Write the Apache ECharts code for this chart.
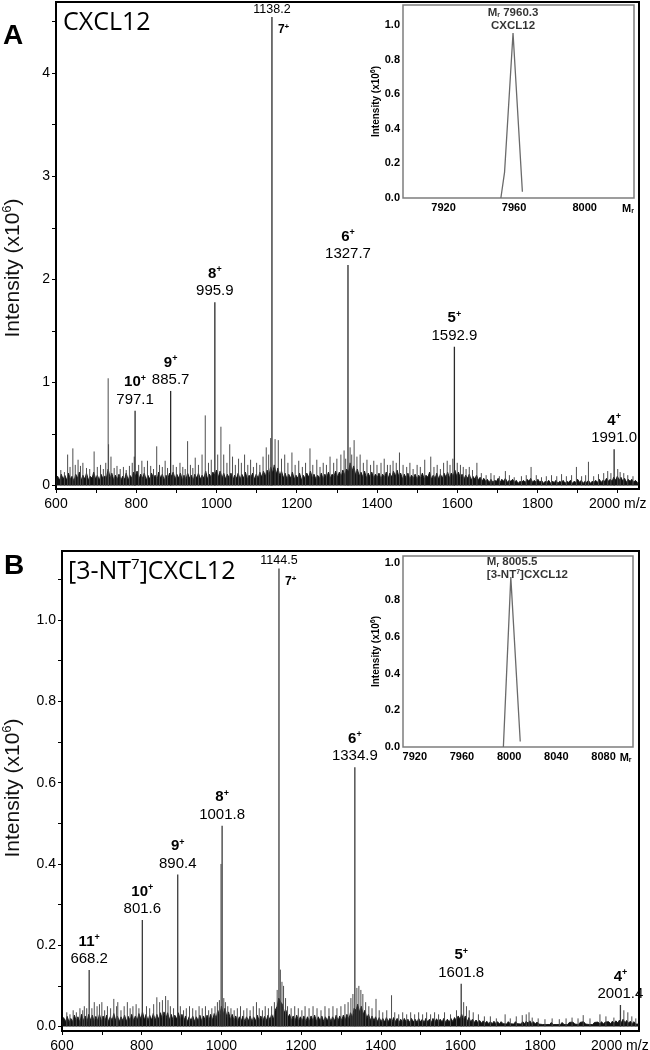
<!DOCTYPE html>
<html>
<head>
<meta charset="UTF-8" />
<script src="https://cdn.jsdelivr.net/npm/echarts@6.0.0/dist/echarts.min.js"></script>
<style>
  html, body, #main { margin: 0; padding: 0; width: 650px; height: 1050px; background: #fff; }
</style>
</head>
<body>
<div id="main"></div>
<script>
// ---- panel A: CXCL12 ----
const labelMzA = [797.1, 885.7, 995.9, 1138.2, 1327.7, 1592.9, 1991.0];
const labelIntA = [0.725, 0.917, 1.777, 4.544, 2.139, 1.346, 0.351];
const chargeA = ['10', '9', '8', '7', '6', '5', '4'];

// small spikes above the noise floor, [m/z, intensity x10^6]
const spikesA = [[612,0.15],[621,0.13],[629,0.30],[635,0.18],[642,0.36],[648,0.20],[655,0.25],[661,0.19],[667,0.22],[676,0.17],[684,0.16],[695,0.33],[703,0.18],[711,0.20],[718,0.16],[724,0.22],[730,1.04],[731,0.40],[737,0.28],[745,0.17],[752,0.19],[760,0.16],[768,0.18],[775,0.15],[783,0.19],[790,0.22],[795,0.28],[806,0.20],[814,0.24],[820,0.18],[828,0.24],[836,0.19],[843,0.16],[851,0.38],[858,0.20],[865,0.18],[872,0.24],[878,0.17],[892,0.20],[900,0.18],[909,0.22],[916,0.18],[922,0.16],[928,0.43],[935,0.20],[941,0.17],[947,0.27],[955,0.20],[964,0.30],[972,0.68],[980,0.22],[987,0.25],[1003,0.30],[1011,0.57],[1018,0.30],[1026,0.22],[1033,0.40],[1040,0.28],[1047,0.20],[1055,0.26],[1062,0.22],[1070,0.30],[1078,0.20],[1085,0.25],[1092,0.18],[1100,0.22],[1108,0.20],[1116,0.28],[1124,0.37],[1130,0.30],[1135,0.46],[1146,0.45],[1154,0.44],[1162,0.26],[1170,0.30],[1178,0.22],[1188,0.32],[1196,0.20],[1205,0.24],[1214,0.18],[1222,0.22],[1233,0.36],[1240,0.20],[1250,0.25],[1258,0.18],[1266,0.22],[1274,0.20],[1283,0.28],[1292,0.22],[1300,0.26],[1310,0.30],[1318,0.34],[1322,0.26],[1333,0.37],[1337,0.30],[1343,0.44],[1350,0.28],[1358,0.30],[1366,0.22],[1375,0.25],[1384,0.20],[1392,0.24],[1400,0.20],[1410,0.22],[1418,0.26],[1426,0.20],[1433,0.20],[1440,0.24],[1448,0.22],[1456,0.32],[1465,0.20],[1474,0.18],[1482,0.22],[1490,0.16],[1500,0.20],[1508,0.18],[1519,0.25],[1534,0.28],[1542,0.18],[1550,0.20],[1558,0.16],[1566,0.22],[1575,0.24],[1582,0.20],[1589,0.26],[1600,0.22],[1608,0.20],[1615,0.18],[1622,0.16],[1630,0.18],[1638,0.15],[1649,0.22],[1660,0.12],[1672,0.10],[1684,0.12],[1692,0.10],[1705,0.09],[1720,0.14],[1730,0.10],[1742,0.08],[1760,0.09],[1772,0.10],[1784,0.18],[1797,0.10],[1810,0.08],[1822,0.09],[1835,0.10],[1848,0.09],[1860,0.11],[1872,0.09],[1885,0.10],[1897,0.18],[1910,0.09],[1920,0.10],[1927,0.23],[1940,0.09],[1952,0.11],[1965,0.12],[1975,0.14],[1983,0.12],[2000,0.16],[2006,0.13],[2015,0.12],[2025,0.10],[2038,0.09]];

// dense noise floor
const floorA = [[600,0.04],[604,0.09],[609,0.05],[613,0.11],[618,0.06],[622,0.10],[627,0.05],[631,0.12],[636,0.06],[640,0.09],[645,0.04],[649,0.11],[654,0.07],[658,0.13],[663,0.05],[667,0.10],[672,0.06],[676,0.12],[681,0.05],[685,0.09],[690,0.07],[694,0.13],[699,0.06],[703,0.10],[708,0.05],[712,0.11],[717,0.07],[721,0.09],[726,0.08],[730,0.16],[735,0.07],[739,0.12],[744,0.05],[748,0.10],[753,0.06],[757,0.11],[762,0.05],[766,0.09],[771,0.06],[775,0.12],[780,0.05],[784,0.10],[789,0.07],[793,0.13],[798,0.09],[802,0.14],[807,0.06],[811,0.11],[816,0.07],[820,0.12],[825,0.05],[829,0.10],[834,0.06],[838,0.12],[843,0.07],[847,0.10],[852,0.06],[856,0.13],[861,0.07],[865,0.11],[870,0.05],[874,0.10],[879,0.07],[883,0.12],[888,0.09],[892,0.13],[897,0.06],[901,0.11],[906,0.07],[910,0.12],[915,0.05],[919,0.10],[924,0.06],[928,0.12],[933,0.07],[937,0.10],[942,0.05],[946,0.11],[951,0.07],[955,0.12],[960,0.06],[964,0.10],[969,0.07],[973,0.14],[978,0.06],[982,0.11],[987,0.08],[991,0.13],[996,0.10],[1000,0.15],[1005,0.08],[1009,0.14],[1014,0.07],[1018,0.12],[1023,0.06],[1027,0.11],[1032,0.07],[1036,0.12],[1041,0.05],[1045,0.10],[1050,0.07],[1054,0.12],[1059,0.06],[1063,0.11],[1068,0.07],[1072,0.13],[1077,0.06],[1081,0.10],[1086,0.08],[1090,0.12],[1095,0.06],[1099,0.11],[1104,0.07],[1108,0.13],[1113,0.08],[1117,0.14],[1122,0.09],[1126,0.15],[1131,0.10],[1135,0.18],[1140,0.12],[1144,0.20],[1149,0.11],[1153,0.17],[1158,0.09],[1162,0.14],[1167,0.07],[1171,0.12],[1176,0.06],[1180,0.11],[1185,0.07],[1189,0.13],[1194,0.06],[1198,0.10],[1203,0.07],[1207,0.12],[1212,0.05],[1216,0.10],[1221,0.07],[1225,0.12],[1230,0.08],[1234,0.14],[1239,0.07],[1243,0.11],[1248,0.06],[1252,0.10],[1257,0.07],[1261,0.12],[1266,0.06],[1270,0.11],[1275,0.08],[1279,0.13],[1284,0.07],[1288,0.11],[1293,0.09],[1297,0.14],[1302,0.08],[1306,0.13],[1311,0.09],[1315,0.15],[1320,0.10],[1324,0.16],[1329,0.13],[1333,0.22],[1338,0.14],[1342,0.19],[1347,0.10],[1351,0.16],[1356,0.09],[1360,0.13],[1365,0.08],[1369,0.14],[1374,0.07],[1378,0.12],[1383,0.08],[1387,0.13],[1392,0.07],[1396,0.11],[1401,0.08],[1405,0.12],[1410,0.06],[1414,0.11],[1419,0.08],[1423,0.13],[1428,0.07],[1432,0.12],[1437,0.08],[1441,0.14],[1446,0.09],[1450,0.15],[1455,0.08],[1459,0.12],[1464,0.06],[1468,0.11],[1473,0.07],[1477,0.12],[1482,0.06],[1486,0.10],[1491,0.07],[1495,0.11],[1500,0.06],[1504,0.10],[1509,0.07],[1513,0.12],[1518,0.06],[1522,0.10],[1527,0.08],[1531,0.13],[1536,0.06],[1540,0.10],[1545,0.07],[1549,0.12],[1554,0.06],[1558,0.11],[1563,0.07],[1567,0.12],[1572,0.08],[1576,0.13],[1581,0.07],[1585,0.12],[1590,0.09],[1594,0.15],[1599,0.09],[1603,0.13],[1608,0.07],[1612,0.11],[1617,0.06],[1621,0.10],[1626,0.07],[1630,0.11],[1635,0.05],[1639,0.09],[1644,0.06],[1648,0.10],[1653,0.05],[1657,0.08],[1662,0.04],[1666,0.07],[1671,0.04],[1675,0.06],[1680,0.03],[1684,0.06],[1689,0.03],[1693,0.05],[1698,0.04],[1702,0.07],[1707,0.03],[1711,0.06],[1716,0.04],[1720,0.07],[1725,0.03],[1729,0.05],[1734,0.04],[1738,0.06],[1743,0.03],[1747,0.05],[1752,0.02],[1756,0.04],[1761,0.03],[1765,0.05],[1770,0.03],[1774,0.06],[1779,0.04],[1783,0.07],[1788,0.03],[1792,0.05],[1797,0.03],[1801,0.06],[1806,0.03],[1810,0.05],[1815,0.02],[1819,0.04],[1824,0.03],[1828,0.05],[1833,0.02],[1837,0.04],[1842,0.03],[1846,0.05],[1851,0.02],[1855,0.04],[1860,0.03],[1864,0.05],[1869,0.02],[1873,0.04],[1878,0.03],[1882,0.05],[1887,0.02],[1891,0.04],[1896,0.03],[1900,0.06],[1905,0.03],[1909,0.05],[1914,0.02],[1918,0.04],[1923,0.03],[1927,0.05],[1932,0.02],[1936,0.04],[1941,0.03],[1945,0.05],[1950,0.03],[1954,0.06],[1959,0.03],[1963,0.05],[1968,0.04],[1972,0.07],[1977,0.04],[1981,0.06],[1986,0.04],[1990,0.08],[1995,0.05],[1999,0.09],[2004,0.05],[2008,0.08],[2013,0.04],[2017,0.07],[2022,0.03],[2026,0.06],[2031,0.04],[2035,0.06],[2040,0.03],[2044,0.05],[2049,0.03],[2053,0.04]];

// deconvoluted inset A
const deconvMzA = [7952.5, 7954.6, 7959.4, 7964.7];
const deconvIntA = [0, 0.15, 0.954, 0.036];

// ---- panel B: [3-NT7]CXCL12 ----
const labelMzB = [668.2, 801.6, 890.4, 1001.8, 1144.5, 1334.9, 1601.8, 2001.4];
const labelIntB = [0.139, 0.262, 0.374, 0.494, 1.127, 0.638, 0.105, 0.053];
const chargeB = ['11', '10', '9', '8', '7', '6', '5', '4'];

const spikesB = [[612,0.035],[620,0.03],[628,0.04],[636,0.035],[645,0.045],[652,0.04],[656,0.05],[662,0.045],[675,0.045],[681,0.06],[688,0.05],[694,0.055],[700,0.06],[707,0.04],[714,0.05],[722,0.045],[730,0.068],[737,0.05],[740,0.06],[748,0.04],[756,0.05],[764,0.06],[771,0.045],[778,0.05],[786,0.055],[793,0.045],[812,0.05],[820,0.045],[830,0.055],[838,0.072],[845,0.06],[852,0.065],[860,0.075],[866,0.065],[872,0.05],[880,0.045],[897,0.05],[905,0.04],[912,0.045],[920,0.05],[928,0.045],[936,0.04],[944,0.05],[952,0.045],[960,0.05],[968,0.04],[976,0.045],[984,0.05],[990,0.06],[995,0.065],[999,0.40],[1006,0.07],[1010,0.06],[1016,0.05],[1024,0.045],[1032,0.04],[1040,0.045],[1048,0.05],[1056,0.04],[1064,0.045],[1072,0.04],[1080,0.05],[1088,0.06],[1095,0.045],[1103,0.04],[1110,0.05],[1118,0.045],[1126,0.05],[1133,0.06],[1140,0.09],[1148,0.14],[1152,0.11],[1156,0.10],[1161,0.07],[1166,0.05],[1175,0.045],[1184,0.05],[1193,0.045],[1202,0.04],[1210,0.05],[1220,0.045],[1230,0.05],[1240,0.045],[1250,0.04],[1260,0.05],[1270,0.045],[1280,0.05],[1290,0.045],[1300,0.05],[1310,0.055],[1318,0.06],[1325,0.07],[1330,0.08],[1340,0.095],[1345,0.10],[1350,0.09],[1355,0.08],[1362,0.06],[1370,0.05],[1378,0.045],[1388,0.068],[1396,0.04],[1405,0.035],[1415,0.04],[1427,0.077],[1435,0.035],[1445,0.03],[1455,0.035],[1465,0.03],[1475,0.035],[1485,0.03],[1495,0.035],[1505,0.03],[1515,0.035],[1525,0.03],[1535,0.035],[1545,0.03],[1560,0.035],[1575,0.03],[1590,0.04],[1608,0.06],[1615,0.05],[1622,0.04],[1632,0.035],[1645,0.03],[1660,0.025],[1675,0.025],[1690,0.02],[1712,0.03],[1725,0.02],[1740,0.025],[1755,0.028],[1765,0.03],[1772,0.035],[1780,0.022],[1795,0.02],[1812,0.018],[1830,0.02],[1848,0.018],[1865,0.02],[1880,0.022],[1895,0.02],[1908,0.028],[1925,0.02],[1950,0.03],[1965,0.025],[1985,0.022],[2010,0.04],[2020,0.035],[2030,0.025],[2040,0.02]];

const floorB = [[600,0.010],[604,0.022],[609,0.012],[613,0.025],[618,0.010],[622,0.020],[627,0.012],[631,0.028],[636,0.014],[640,0.024],[645,0.010],[649,0.030],[654,0.014],[658,0.026],[663,0.012],[667,0.030],[672,0.015],[676,0.028],[681,0.012],[685,0.025],[690,0.014],[694,0.030],[699,0.012],[703,0.026],[708,0.014],[712,0.028],[717,0.012],[721,0.024],[726,0.015],[730,0.032],[735,0.014],[739,0.026],[744,0.012],[748,0.024],[753,0.014],[757,0.028],[762,0.012],[766,0.025],[771,0.015],[775,0.030],[780,0.014],[784,0.026],[789,0.016],[793,0.032],[798,0.018],[802,0.036],[807,0.016],[811,0.030],[816,0.014],[820,0.028],[825,0.016],[829,0.032],[834,0.015],[838,0.030],[843,0.017],[847,0.034],[852,0.018],[856,0.036],[861,0.020],[865,0.034],[870,0.016],[874,0.030],[879,0.015],[883,0.028],[888,0.018],[892,0.034],[897,0.016],[901,0.030],[906,0.014],[910,0.026],[915,0.012],[919,0.024],[924,0.014],[928,0.026],[933,0.012],[937,0.024],[942,0.014],[946,0.028],[951,0.013],[955,0.026],[960,0.014],[964,0.028],[969,0.015],[973,0.030],[978,0.016],[982,0.032],[987,0.020],[991,0.040],[996,0.025],[1000,0.050],[1005,0.030],[1009,0.045],[1014,0.022],[1018,0.036],[1023,0.016],[1027,0.030],[1032,0.014],[1036,0.026],[1041,0.012],[1045,0.024],[1050,0.014],[1054,0.026],[1059,0.012],[1063,0.024],[1068,0.014],[1072,0.026],[1077,0.012],[1081,0.024],[1086,0.014],[1090,0.028],[1095,0.014],[1099,0.026],[1104,0.013],[1108,0.025],[1113,0.015],[1117,0.028],[1122,0.016],[1126,0.030],[1131,0.018],[1135,0.040],[1140,0.050],[1144,0.070],[1149,0.060],[1153,0.055],[1158,0.035],[1162,0.040],[1167,0.022],[1171,0.030],[1176,0.015],[1180,0.026],[1185,0.014],[1189,0.028],[1194,0.013],[1198,0.024],[1203,0.014],[1207,0.026],[1212,0.012],[1216,0.024],[1221,0.013],[1225,0.026],[1230,0.014],[1234,0.028],[1239,0.012],[1243,0.024],[1248,0.014],[1252,0.026],[1257,0.012],[1261,0.024],[1266,0.014],[1270,0.026],[1275,0.012],[1279,0.024],[1284,0.014],[1288,0.028],[1293,0.014],[1297,0.026],[1302,0.015],[1306,0.028],[1311,0.016],[1315,0.030],[1320,0.018],[1324,0.034],[1329,0.022],[1333,0.045],[1338,0.040],[1342,0.055],[1347,0.035],[1351,0.050],[1356,0.030],[1360,0.040],[1365,0.020],[1369,0.030],[1374,0.015],[1378,0.026],[1383,0.014],[1387,0.024],[1392,0.012],[1396,0.022],[1401,0.012],[1405,0.020],[1410,0.011],[1414,0.022],[1419,0.012],[1423,0.020],[1428,0.010],[1432,0.022],[1437,0.012],[1441,0.020],[1446,0.010],[1450,0.018],[1455,0.010],[1459,0.020],[1464,0.011],[1468,0.018],[1473,0.010],[1477,0.020],[1482,0.011],[1486,0.018],[1491,0.010],[1495,0.020],[1500,0.011],[1504,0.018],[1509,0.010],[1513,0.020],[1518,0.011],[1522,0.018],[1527,0.010],[1531,0.020],[1536,0.011],[1540,0.019],[1545,0.010],[1549,0.018],[1554,0.011],[1558,0.020],[1563,0.010],[1567,0.018],[1572,0.011],[1576,0.020],[1581,0.012],[1585,0.022],[1590,0.014],[1594,0.026],[1599,0.018],[1603,0.030],[1608,0.016],[1612,0.026],[1617,0.012],[1621,0.022],[1626,0.011],[1630,0.018],[1635,0.010],[1639,0.016],[1644,0.009],[1648,0.015],[1653,0.008],[1657,0.014],[1662,0.008],[1666,0.013],[1671,0.007],[1675,0.012],[1680,0.007],[1684,0.013],[1689,0.007],[1693,0.012],[1698,0.006],[1702,0.012],[1707,0.007],[1711,0.011],[1716,0.006],[1720,0.012],[1725,0.007],[1729,0.011],[1734,0.006],[1738,0.012],[1743,0.007],[1747,0.011],[1752,0.006],[1756,0.012],[1761,0.007],[1765,0.013],[1770,0.008],[1774,0.014],[1779,0.007],[1783,0.012],[1788,0.006],[1792,0.011],[1797,0.006],[1801,0.010],[1806,0.005],[1810,0.009],[1815,0.005],[1819,0.009],[1824,0.005],[1828,0.010],[1833,0.005],[1837,0.009],[1842,0.005],[1846,0.009],[1851,0.005],[1855,0.010],[1860,0.005],[1864,0.009],[1869,0.005],[1873,0.010],[1878,0.006],[1882,0.011],[1887,0.006],[1891,0.010],[1896,0.005],[1900,0.010],[1905,0.006],[1909,0.012],[1914,0.006],[1918,0.010],[1923,0.005],[1927,0.009],[1932,0.005],[1936,0.010],[1941,0.006],[1945,0.011],[1950,0.006],[1954,0.012],[1959,0.006],[1963,0.011],[1968,0.007],[1972,0.012],[1977,0.007],[1981,0.013],[1986,0.008],[1990,0.014],[1995,0.009],[1999,0.016],[2004,0.010],[2008,0.018],[2013,0.009],[2017,0.015],[2022,0.008],[2026,0.013],[2031,0.007],[2035,0.012],[2040,0.006],[2044,0.010],[2048,0.006]];

const deconvMzB = [7995.1, 8001.4, 8009.4];
const deconvIntB = [0, 0.925, 0.03];

// ---- axis ticks ----
const xTicks = [600, 800, 1000, 1200, 1400, 1600, 1800, 2000];
const xMinorTicks = [600, 700, 800, 900, 1000, 1100, 1200, 1300, 1400, 1500, 1600, 1700, 1800, 1900, 2000];
const yTicksA = [0, 1, 2, 3, 4];
const yMinorA = [0, 0.5, 1, 1.5, 2, 2.5, 3, 3.5, 4, 4.5];
const yTicksB = [0, 0.2, 0.4, 0.6, 0.8, 1.0];
const yMinorB = [0, 0.1, 0.2, 0.3, 0.4, 0.5, 0.6, 0.7, 0.8, 0.9, 1.0, 1.1];
const insetXTicksA = [7920, 7960, 8000];
const insetXTicksB = [7920, 7960, 8000, 8040, 8080];
const insetYTicks = [0, 0.2, 0.4, 0.6, 0.8, 1.0];

const FONT = '"Liberation Sans", Arial, sans-serif';
const INK = '#000';
const chart = echarts.init(document.getElementById('main'));

function mainX(grid, max) {
  return {
    gridIndex: grid, type: 'value', min: 600, max: max,
    axisLine: { onZero: false, lineStyle: { color: '#000', width: 2 } },
    axisTick: { show: true, length: 4, customValues: xMinorTicks, lineStyle: { color: '#000' } },
    axisLabel: {
      customValues: xTicks, margin: 8, fontSize: 14, color: INK, fontFamily: FONT,
      formatter: v => v === 2000 ? '2000 m/z' : String(v)
    },
    splitLine: { show: false }
  };
}

function mainY(grid, min, max, labels, ticks, digits) {
  return {
    gridIndex: grid, type: 'value', min: min, max: max,
    axisLine: { onZero: false, lineStyle: { color: '#000', width: 2 } },
    axisTick: { show: true, length: 4, customValues: ticks, lineStyle: { color: '#000' } },
    axisLabel: {
      customValues: labels, margin: 6, fontSize: 14, color: INK, fontFamily: FONT,
      formatter: v => v.toFixed(digits)
    },
    splitLine: { show: false }
  };
}

function insetX(grid, min, max, labels, gap) {
  return {
    gridIndex: grid, type: 'value', min: min, max: max,
    axisLine: { show: false, onZero: false }, axisTick: { show: false },
    axisLabel: {
      customValues: labels, margin: 4, fontSize: 11, fontWeight: 'bold', color: INK, fontFamily: FONT,
      formatter: v => String(v)
    },
    splitLine: { show: false },
    name: '{m|M}{r|r}', nameLocation: 'end', nameGap: gap,
    nameTextStyle: {
      verticalAlign: 'top', padding: [4, 0, 0, 0],
      rich: {
        m: { fontSize: 11, fontWeight: 'bold', color: INK, fontFamily: FONT, lineHeight: 13 },
        r: { fontSize: 7, fontWeight: 'bold', color: INK, fontFamily: FONT, verticalAlign: 'bottom', lineHeight: 13 }
      }
    }
  };
}

function insetY(grid, max) {
  return {
    gridIndex: grid, type: 'value', min: 0, max: max,
    axisLine: { show: false, onZero: false }, axisTick: { show: false },
    axisLabel: { customValues: insetYTicks, margin: 3, fontSize: 11, fontWeight: 'bold', color: INK, fontFamily: FONT, formatter: v => v.toFixed(1) },
    splitLine: { show: false },
    name: '{a|Intensity (x10}{s|6}{a|)}', nameLocation: 'middle', nameGap: 19,
    nameTextStyle: {
      rich: {
        a: { fontSize: 10, fontWeight: 'bold', color: INK, fontFamily: FONT, lineHeight: 12 },
        s: { fontSize: 7, fontWeight: 'bold', color: INK, fontFamily: FONT, verticalAlign: 'top', lineHeight: 12 }
      }
    }
  };
}

function stickSeries(data, axis, color, width, z) {
  return {
    type: 'custom', coordinateSystem: 'cartesian2d', xAxisIndex: axis, yAxisIndex: axis,
    data: data, encode: { x: 0, y: 1 }, silent: true, z: z,
    renderItem: (params, api) => {
      const top = api.coord([api.value(0), api.value(1)]);
      const base = api.coord([api.value(0), 0]);
      return {
        type: 'line',
        shape: { x1: top[0], y1: base[1], x2: top[0], y2: top[1] },
        style: { stroke: color, lineWidth: width }
      };
    }
  };
}

function floorSeries(data, axis) {
  return {
    type: 'line', xAxisIndex: axis, yAxisIndex: axis, data: data, symbol: 'none', silent: true, z: 3,
    lineStyle: { color: '#111', width: 0.9 },
    areaStyle: { color: '#111', opacity: 1 }
  };
}

const peakRich = {
  m: { fontSize: 15, color: INK, fontFamily: FONT, lineHeight: 16 },
  s: { fontSize: 12.5, color: INK, fontFamily: FONT, lineHeight: 14 },
  c: { fontSize: 15, fontWeight: 'bold', color: INK, fontFamily: FONT, lineHeight: 17 },
  p: { fontSize: 9, fontWeight: 'bold', color: INK, fontFamily: FONT, verticalAlign: 'top', lineHeight: 17 },
  cs: { fontSize: 12, fontWeight: 'bold', color: INK, fontFamily: FONT, lineHeight: 14 },
  ps: { fontSize: 8, fontWeight: 'bold', color: INK, fontFamily: FONT, verticalAlign: 'top', lineHeight: 14 }
};

function labelSeries(mz, inten, charge, axis) {
  const maxI = Math.max(...inten);
  const mzItems = [], chItems = [];
  mz.forEach((m, i) => {
    const tall = inten[i] === maxI;
    mzItems.push({
      value: [m, inten[i]],
      label: { position: 'top', distance: tall ? 1 : 3, formatter: (tall ? '{s|' : '{m|') + m.toFixed(1) + '}' }
    });
    chItems.push({
      value: [m, inten[i]],
      label: tall
        ? { position: 'right', distance: 6, offset: [0, 13], formatter: '{cs|' + charge[i] + '}{ps|+}' }
        : { position: 'top', distance: 20, formatter: '{c|' + charge[i] + '}{p|+}' }
    });
  });
  const base = {
    type: 'scatter', xAxisIndex: axis, yAxisIndex: axis, symbolSize: 0, silent: true, z: 6,
    itemStyle: { color: 'transparent' },
    label: { show: true, color: INK, opacity: 1, rich: peakRich }
  };
  return [Object.assign({}, base, { data: mzItems }), Object.assign({}, base, { data: chItems })];
}

const insetRich = {
  b: { fontSize: 11.5, fontWeight: 'bold', color: INK, fontFamily: FONT, lineHeight: 13 },
  r: { fontSize: 7, fontWeight: 'bold', color: INK, fontFamily: FONT, verticalAlign: 'bottom', lineHeight: 13 },
  u: { fontSize: 7, fontWeight: 'bold', color: INK, fontFamily: FONT, verticalAlign: 'top', lineHeight: 13 }
};

function insetSeries(mz, inten, axis, text, labelOpts) {
  const apex = inten.indexOf(Math.max(...inten));
  return [
    {
      type: 'line', xAxisIndex: axis, yAxisIndex: axis, symbol: 'none', silent: true, z: 5,
      data: mz.map((m, i) => [m, inten[i]]),
      lineStyle: { color: '#6a6a6a', width: 1.3 }
    },
    {
      type: 'scatter', xAxisIndex: axis, yAxisIndex: axis, symbolSize: 0, silent: true, z: 6,
      itemStyle: { color: 'transparent' },
      data: [[mz[apex], inten[apex]]],
      label: Object.assign({ show: true, color: INK, formatter: text, rich: insetRich }, labelOpts)
    }
  ];
}

const option = {
  animation: false,
  backgroundColor: '#fff',
  textStyle: { fontFamily: FONT, color: INK },
  grid: [
    { left: 56, top: 2, width: 583, height: 487, show: true, borderColor: '#000', borderWidth: 2, outerBoundsMode: 'none', containLabel: false },
    { left: 62, top: 551, width: 577, height: 480, show: true, borderColor: '#000', borderWidth: 2, outerBoundsMode: 'none', containLabel: false },
    { left: 403, top: 5, width: 231, height: 193, show: true, backgroundColor: '#fff', borderColor: '#7d7d7d', borderWidth: 1.5, outerBoundsMode: 'none', containLabel: false, z: 4 },
    { left: 403, top: 556, width: 230, height: 191, show: true, backgroundColor: '#fff', borderColor: '#7d7d7d', borderWidth: 1.5, outerBoundsMode: 'none', containLabel: false, z: 4 }
  ],
  xAxis: [
    mainX(0, 2053),
    mainX(1, 2048),
    insetX(2, 7897, 8028, insetXTicksA, -12),
    insetX(3, 7910, 8105, insetXTicksB, -19)
  ],
  yAxis: [
    mainY(0, -0.034, 4.69, yTicksA, yMinorA, 0),
    mainY(1, -0.011, 1.17, yTicksB, yMinorB, 1),
    insetY(2, 1.116),
    insetY(3, 1.04)
  ],
  graphic: [
    { type: 'text', x: 13, y: 36, style: { text: 'A', font: 'bold 28px ' + FONT, fill: '#000', align: 'center', verticalAlign: 'middle' } },
    { type: 'text', x: 14, y: 566, style: { text: 'B', font: 'bold 28px ' + FONT, fill: '#000', align: 'center', verticalAlign: 'middle' } },
    { type: 'text', x: 63, y: 23, style: { text: 'CXCL12', font: '25px "Open Sans", sans-serif', fill: '#000', align: 'left', verticalAlign: 'middle' } },
    {
      type: 'text', x: 68, y: 572,
      style: {
        text: '{t|[3-NT}{s|7}{t|]CXCL12}', align: 'left', verticalAlign: 'middle',
        rich: {
          t: { fontSize: 25, fontFamily: '"Open Sans", sans-serif', fill: '#000', color: '#000', lineHeight: 30 },
          s: { fontSize: 15, fontFamily: '"Open Sans", sans-serif', fill: '#000', color: '#000', verticalAlign: 'top', lineHeight: 30 }
        }
      }
    },
    {
      type: 'text', x: 13, y: 268, rotation: Math.PI / 2,
      style: {
        text: '{a|Intensity (x10}{s|6}{a|)}', align: 'center', verticalAlign: 'middle',
        rich: {
          a: { fontSize: 21, fontFamily: FONT, fill: '#111', color: '#111', lineHeight: 24 },
          s: { fontSize: 13, fontFamily: FONT, fill: '#111', color: '#111', verticalAlign: 'top', lineHeight: 24 }
        }
      }
    },
    {
      type: 'text', x: 13, y: 788, rotation: Math.PI / 2,
      style: {
        text: '{a|Intensity (x10}{s|6}{a|)}', align: 'center', verticalAlign: 'middle',
        rich: {
          a: { fontSize: 21, fontFamily: FONT, fill: '#111', color: '#111', lineHeight: 24 },
          s: { fontSize: 13, fontFamily: FONT, fill: '#111', color: '#111', verticalAlign: 'top', lineHeight: 24 }
        }
      }
    }
  ],
  series: [
    floorSeries(floorA, 0),
    stickSeries(spikesA, 0, '#4d4d4d', 1, 4),
    stickSeries(labelMzA.map((m, i) => [m, labelIntA[i]]), 0, '#2a2a2a', 1.3, 5),
    ...labelSeries(labelMzA, labelIntA, chargeA, 0),

    floorSeries(floorB, 1),
    stickSeries(spikesB, 1, '#4d4d4d', 1, 4),
    stickSeries(labelMzB.map((m, i) => [m, labelIntB[i]]), 1, '#3a3a3a', 1.3, 5),
    ...labelSeries(labelMzB, labelIntB, chargeB, 1),

    ...insetSeries(deconvMzA, deconvIntA, 2, '{b|M}{r|r}{b| 7960.3}\n{b|CXCL12}',
      { position: 'top', distance: 1, align: 'center' }),
    ...insetSeries(deconvMzB, deconvIntB, 3, '{b|M}{r|r}{b| 8005.5}\n{b|[3-NT}{u|7}{b|]CXCL12}',
      { position: [-24, -22], align: 'left', verticalAlign: 'top' })
  ]
};

chart.setOption(option);
</script>
</body>
</html>
